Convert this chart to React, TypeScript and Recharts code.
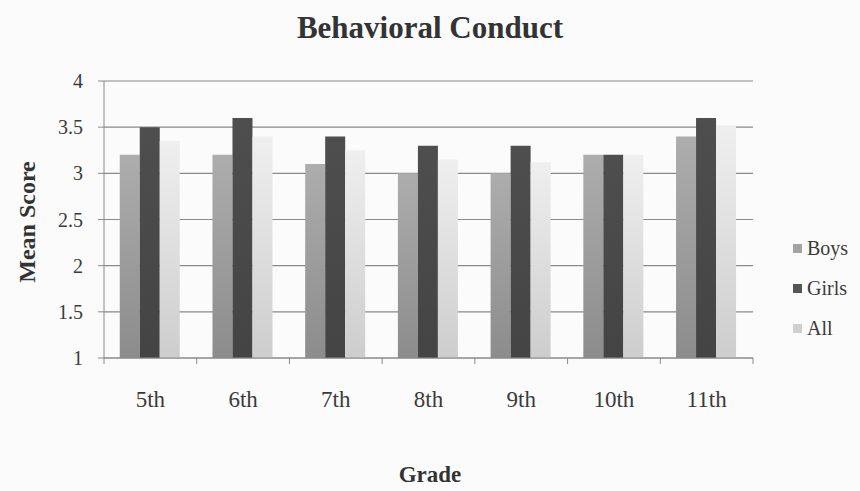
import { BarChart, Bar, XAxis, YAxis, CartesianGrid } from 'recharts';

const grades = ['5th', '6th', '7th', '8th', '9th', '10th', '11th'];
const boys = [3.2, 3.2, 3.1, 3.0, 3.0, 3.2, 3.4];
const girls = [3.5, 3.6, 3.4, 3.3, 3.3, 3.2, 3.6];
const all = [3.35, 3.4, 3.25, 3.15, 3.12, 3.2, 3.52];
const yTicks = [1, 1.5, 2, 2.5, 3, 3.5, 4];

const W = 860;
const H = 491;
const margin = { top: 81, right: 107, bottom: 33, left: 40 };
const yAxisWidth = 64;
const font = '"Liberation Serif", "DejaVu Serif", serif';
const axisColor = '#8a8a8a';
const textColor = '#3a3a3a';

const data = grades.map((g, i) => ({ grade: g, Boys: boys[i], Girls: girls[i], All: all[i] }));

const plotW = W - margin.left - yAxisWidth - margin.right;
const band = plotW / grades.length;

function GradeTick(props: any) {
  const { x, y, payload, index } = props;
  return (
    <g>
      <line x1={x - band / 2} x2={x - band / 2} y1={y} y2={y + 6} stroke={axisColor} />
      {index === grades.length - 1 && (
        <line x1={x + band / 2} x2={x + band / 2} y1={y} y2={y + 6} stroke={axisColor} />
      )}
      <text x={x} y={y + 49} textAnchor="middle" fill={textColor} fontSize={23} fontFamily={font}>
        {payload.value}
      </text>
    </g>
  );
}

const legendItems = [
  { name: 'Boys', color: '#a3a3a3' },
  { name: 'Girls', color: '#555555' },
  { name: 'All', color: '#cfcfcf' },
];

export default function App() {
  return (
    <div style={{ position: 'fixed', left: 0, top: 0, width: W, height: H, background: '#fbfbfb' }}>
      <BarChart width={W} height={H} data={data} margin={margin} barCategoryGap="17%" barGap={0}>
        <defs>
          <linearGradient id="gBoys" x1="0" y1="0" x2="0" y2="1">
            <stop offset="0%" stopColor="#adadad" />
            <stop offset="100%" stopColor="#8c8c8c" />
          </linearGradient>
          <linearGradient id="gGirls" x1="0" y1="0" x2="0" y2="1">
            <stop offset="0%" stopColor="#4e4e4e" />
            <stop offset="100%" stopColor="#444444" />
          </linearGradient>
          <linearGradient id="gAll" x1="0" y1="0" x2="0" y2="1">
            <stop offset="0%" stopColor="#efefef" />
            <stop offset="100%" stopColor="#cdcdcd" />
          </linearGradient>
        </defs>
        <CartesianGrid vertical={false} stroke={axisColor} strokeWidth={1.2} />
        <XAxis
          dataKey="grade"
          height={100}
          axisLine={{ stroke: axisColor }}
          tickLine={false}
          tickSize={0}
          tickMargin={0}
          interval={0}
          tick={<GradeTick />}
        />
        <YAxis
          width={yAxisWidth}
          domain={[1, 4]}
          ticks={yTicks}
          allowDataOverflow
          axisLine={{ stroke: axisColor }}
          tickLine={{ stroke: axisColor }}
          tickSize={6}
          tickMargin={15}
          tick={{ fill: textColor, fontSize: 20, fontFamily: font }}
        />
        <Bar dataKey="Boys" fill="url(#gBoys)" isAnimationActive={false} />
        <Bar dataKey="Girls" fill="url(#gGirls)" isAnimationActive={false} />
        <Bar dataKey="All" fill="url(#gAll)" isAnimationActive={false} />
      </BarChart>
      <div
        style={{
          position: 'absolute',
          left: 793,
          top: 228,
          fontFamily: font,
          fontSize: 20,
          color: textColor,
        }}
      >
        {legendItems.map((it) => (
          <div key={it.name} style={{ display: 'flex', alignItems: 'center', height: 40 }}>
            <span
              style={{ width: 9, height: 9, background: it.color, marginRight: 5, display: 'inline-block' }}
            />
            {it.name}
          </div>
        ))}
      </div>
      <div
        style={{
          position: 'absolute',
          left: 0,
          width: W,
          top: 10,
          textAlign: 'center',
          fontFamily: font,
          fontWeight: 'bold',
          fontSize: 31,
          color: '#333',
        }}
      >
        Behavioral Conduct
      </div>
      <div
        style={{
          position: 'absolute',
          left: 27,
          top: 222,
          transform: 'translate(-50%, -50%) rotate(-90deg)',
          whiteSpace: 'nowrap',
          fontFamily: font,
          fontWeight: 'bold',
          fontSize: 24,
          color: '#333',
        }}
      >
        Mean Score
      </div>
      <div
        style={{
          position: 'absolute',
          left: 0,
          width: W,
          top: 462,
          textAlign: 'center',
          fontFamily: font,
          fontWeight: 'bold',
          fontSize: 23,
          color: '#333',
        }}
      >
        Grade
      </div>
    </div>
  );
}
